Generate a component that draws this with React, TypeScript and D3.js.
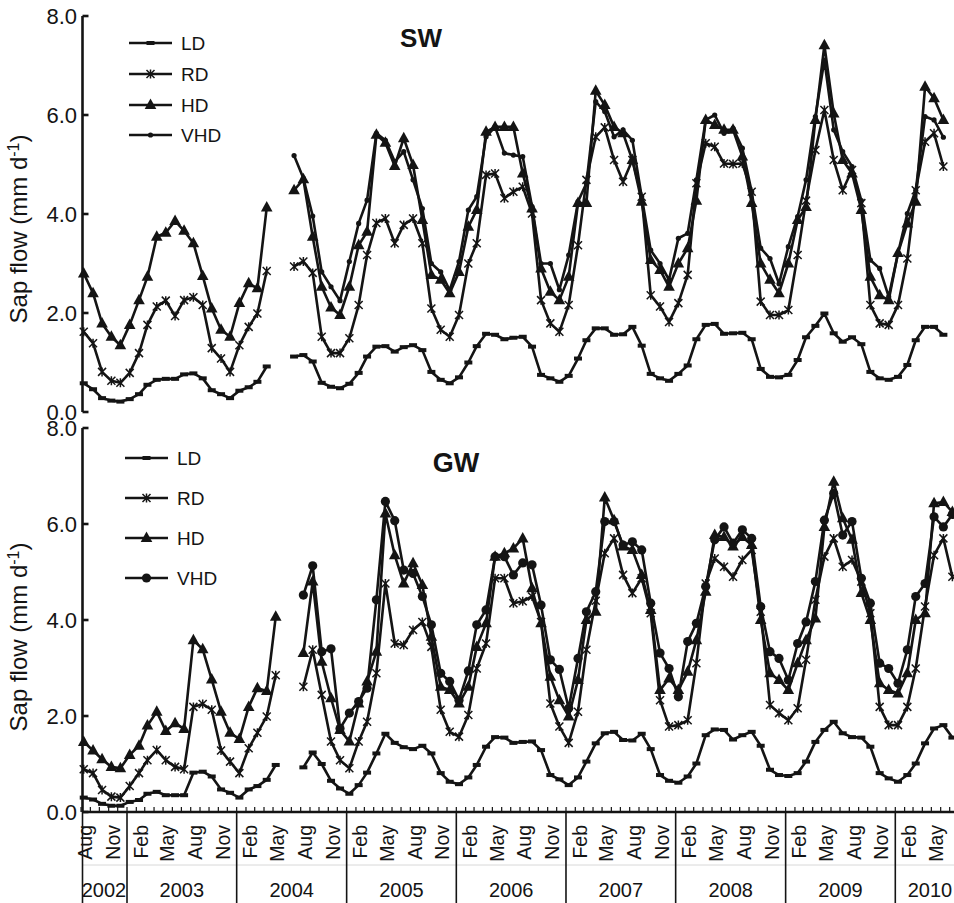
import React from 'react';
import * as d3 from 'd3';

const W = 954;
const H = 903;
const INK = '#141414';
const FONT = 'Liberation Sans, Arial, Helvetica, sans-serif';

// one point per month, Aug 2002 .. Jul 2010
const months = d3.timeMonth.range(new Date(2002, 7, 1), new Date(2010, 7, 2));

const seriesNames = ['LD', 'RD', 'HD', 'VHD'];
const yTicks = [0, 2, 4, 6, 8];
const monthTickNames = ['Feb', 'May', 'Aug', 'Nov'];
const years = [2002, 2003, 2004, 2005, 2006, 2007, 2008, 2009, 2010];

// ---- SW ----
const swLD = [
  0.58, 0.46, 0.28, 0.23, 0.21,
  0.26, 0.36, 0.55, 0.65, 0.67, 0.67, 0.76, 0.78, 0.68, 0.44, 0.36, 0.28,
  0.43, 0.5, 0.61, 0.92, null, null, 1.12, 1.15, 1.02, 0.59, 0.51, 0.48,
  0.57, 0.79, 1.12, 1.32, 1.33, 1.22, 1.31, 1.35, 1.25, 0.81, 0.65, 0.58,
  0.7, 1.0, 1.33, 1.58, 1.56, 1.47, 1.5, 1.52, 1.32, 0.75, 0.68, 0.61,
  0.73, 1.08, 1.45, 1.69, 1.69, 1.56, 1.57, 1.72, 1.34, 0.77, 0.68, 0.63,
  0.77, 0.94, 1.47, 1.76, 1.78, 1.58, 1.59, 1.6, 1.47, 0.87, 0.71, 0.7,
  0.75, 1.05, 1.51, 1.74, 1.99, 1.59, 1.42, 1.51, 1.37, 0.81, 0.68, 0.65,
  0.71, 0.95, 1.45, 1.72, 1.72, 1.56, null,
];
const swRD = [
  1.62, 1.39, 0.81, 0.63, 0.59,
  0.79, 1.19, 1.76, 2.13, 2.25, 1.94, 2.26, 2.32, 2.16, 1.29, 1.08, 0.81,
  1.35, 1.72, 1.99, 2.85, null, null, 2.94, 3.04, 2.81, 1.52, 1.19, 1.19,
  1.49, 2.16, 3.17, 3.82, 3.91, 3.41, 3.78, 3.91, 3.41, 2.09, 1.66, 1.52,
  1.96, 3.0, 3.41, 4.79, 4.82, 4.32, 4.45, 4.55, 4.01, 2.26, 1.79, 1.62,
  2.16, 3.37, 4.69, 5.56, 5.75, 5.09, 4.65, 5.09, 4.35, 2.36, 2.13, 1.82,
  2.2, 2.77, 4.62, 5.43, 5.36, 5.02, 5.01, 5.02, 4.45, 2.23, 1.96, 1.96,
  2.06, 3.17, 4.27, 5.29, 6.1, 5.09, 4.48, 4.89, 4.22, 2.16, 1.79, 1.76,
  2.16, 3.1, 4.48, 5.46, 5.63, 4.96, null,
];
const swHD = [
  2.8, 2.4, 1.79, 1.52, 1.35,
  1.76, 2.26, 2.73, 3.54, 3.62, 3.86, 3.66, 3.41, 2.75, 2.09, 1.66, 1.52,
  2.2, 2.6, 2.5, 4.13, null, null, 4.48, 4.7, 3.54, 2.53, 2.11, 1.96,
  2.53, 3.37, 3.64, 5.6, 5.44, 4.97, 5.53, 4.99, 3.88, 2.77, 2.67, 2.4,
  2.83, 3.74, 4.08, 5.66, 5.76, 5.76, 5.76, 4.82, 4.11, 2.9, 2.43, 2.26,
  2.73, 4.22, 4.22, 6.49, 6.2, 5.76, 5.63, 5.09, 4.25, 3.07, 2.87, 2.53,
  3.0, 3.31, 4.27, 5.9, 5.8, 5.7, 5.7, 5.16, 4.22, 3.0, 2.67, 2.4,
  3.0, 3.88, 4.14, 5.9, 7.41, 6.03, 5.09, 4.82, 4.08, 2.73, 2.36, 2.26,
  3.21, 3.81, 4.25, 6.57, 6.34, 5.9, null,
];
const swVHD = [
  null, null, null, null, null,
  null, null, null, null, null, null, null, null, null, null, null, null,
  null, null, null, null, null, null, 5.18, 4.72, 3.96, 2.83, 2.53, 2.25,
  3.04, 3.81, 4.28, 5.63, 5.49, 5.06, 5.26, 4.69, 4.11, 3.0, 2.83, 2.46,
  3.04, 4.08, 4.35, 5.56, 5.76, 5.23, 5.19, 5.16, 4.15, 3.0, 3.0, 2.47,
  3.17, 4.25, 4.62, 6.27, 6.07, 5.56, 5.7, 5.49, 4.35, 3.27, 3.0, 2.67,
  3.51, 3.61, 4.69, 5.9, 6.0, 5.63, 5.73, 5.33, 4.45, 3.31, 3.1, 2.59,
  3.34, 3.95, 4.69, 5.97, 7.11, 5.7, 5.26, 4.96, 4.27, 3.07, 2.9, 2.33,
  3.21, 4.01, 4.48, 5.97, 5.9, 5.55, null,
];

// ---- GW ----
const gwLD = [
  0.3, 0.26, 0.17, 0.13, 0.13,
  0.21, 0.25, 0.38, 0.42, 0.35, 0.35, 0.35, 0.82, 0.84, 0.74, 0.47, 0.4,
  0.3, 0.47, 0.54, 0.67, 0.98, null, null, 0.93, 1.24, 1.0, 0.65, 0.49,
  0.38, 0.56, 0.82, 1.22, 1.63, 1.44, 1.35, 1.31, 1.38, 1.22, 0.81, 0.63,
  0.58, 0.72, 0.98, 1.36, 1.56, 1.55, 1.44, 1.46, 1.47, 1.29, 0.77, 0.68,
  0.56, 0.72, 1.05, 1.43, 1.64, 1.67, 1.5, 1.49, 1.63, 1.31, 0.77, 0.65,
  0.61, 0.74, 1.01, 1.6, 1.72, 1.71, 1.51, 1.6, 1.67, 1.38, 0.88, 0.77,
  0.75, 0.81, 1.05, 1.46, 1.71, 1.88, 1.64, 1.56, 1.55, 1.36, 0.81, 0.7,
  0.63, 0.77, 1.01, 1.43, 1.74, 1.81, 1.55,
];
const gwRD = [
  0.89, 0.81, 0.46, 0.32, 0.3,
  0.54, 0.81, 1.08, 1.29, 1.08, 0.94, 0.89, 2.19, 2.25, 2.13, 1.28, 1.05,
  0.81, 1.33, 1.65, 1.99, 2.85, null, null, 2.61, 3.38, 2.44, 1.47, 1.08,
  0.91, 1.47, 1.88, 2.89, 4.76, 3.51, 3.48, 3.79, 3.96, 3.44, 2.13, 1.67,
  1.57, 2.02, 2.99, 3.51, 4.87, 4.87, 4.35, 4.39, 4.49, 3.96, 2.26, 1.78,
  1.44, 2.09, 3.38, 4.4, 5.39, 5.7, 4.94, 4.56, 4.87, 4.14, 2.33, 1.78,
  1.81, 1.91, 3.1, 4.76, 5.28, 5.11, 4.9, 5.25, 5.46, 4.17, 2.23, 2.06,
  1.91, 2.16, 3.17, 4.42, 5.32, 5.7, 5.11, 5.25, 4.8, 4.14, 2.19, 1.81,
  1.81, 2.19, 2.99, 4.28, 5.35, 5.7, 4.9,
];
const gwHD = [
  1.46, 1.28, 1.1, 0.94, 0.91,
  1.19, 1.38, 1.8, 2.09, 1.69, 1.85, 1.73, 3.58, 3.39, 2.76, 2.09, 1.65,
  1.52, 2.19, 2.58, 2.52, 4.07, null, null, 3.31, 4.8, 3.13, 2.37, 1.71,
  1.47, 2.26, 2.72, 3.34, 6.22, 5.35, 4.76, 5.18, 4.73, 3.65, 2.61, 2.54,
  2.26, 2.61, 3.44, 3.93, 5.32, 5.39, 5.49, 5.7, 4.66, 3.93, 2.82, 2.33,
  1.99, 2.75, 4.0, 4.17, 6.55, 6.08, 5.53, 5.46, 4.94, 4.21, 2.54, 2.78,
  2.54, 2.92, 3.58, 4.59, 5.77, 5.73, 5.53, 5.73, 5.56, 4.0, 2.89, 2.75,
  2.54, 3.1, 3.58, 4.03, 5.94, 6.88, 6.12, 5.67, 4.56, 4.0, 2.68, 2.54,
  2.47, 2.89, 4.0, 4.14, 6.43, 6.46, 6.25,
];
const gwVHD = [
  null, null, null, null, null,
  null, null, null, null, null, null, null, null, null, null, null, null,
  null, null, null, null, null, null, null, 4.52, 5.13, 3.34, 3.4, 1.74,
  2.06, 2.3, 2.58, 4.42, 6.47, 6.07, 5.04, 4.97, 4.49, 3.9, 2.89, 2.72,
  2.33, 2.94, 3.9, 4.21, 5.32, 5.32, 4.94, 5.19, 5.15, 4.31, 3.17, 2.97,
  2.16, 3.2, 4.17, 4.59, 6.05, 6.05, 5.56, 5.63, 5.46, 4.35, 3.31, 2.99,
  2.4, 3.55, 3.93, 4.7, 5.67, 5.94, 5.6, 5.88, 5.7, 4.28, 3.34, 3.2,
  2.75, 3.51, 3.96, 4.8, 6.08, 6.64, 5.77, 6.05, 4.87, 4.35, 3.1, 2.99,
  2.68, 3.38, 4.49, 4.76, 6.15, 5.94, 6.2,
];

const swData = { LD: swLD, RD: swRD, HD: swHD, VHD: swVHD };
const gwData = { LD: gwLD, RD: gwRD, HD: gwHD, VHD: gwVHD };

const x = d3
  .scaleTime()
  .domain([new Date(2003, 0, 1), new Date(2010, 0, 1)])
  .range([127, 895.3]);
const AXIS_X = 82.5;
const AXIS_START = new Date(2002, 7, 1);
const AXIS_END = new Date(2010, 7, 20); // figure is cut off at the right
const pointDate = (d: Date) => new Date(d.getFullYear(), d.getMonth(), 10);

const ySW = d3.scaleLinear().domain([0, 8]).range([412, 16]);
const yGW = d3.scaleLinear().domain([0, 8]).range([812, 428]);

function Marker({ kind, cx, cy, r }: { kind: string; cx: number; cy: number; r: number }) {
  if (kind === 'LD') return <rect x={cx - 4} y={cy - 2} width={8} height={4} fill={INK} />;
  if (kind === 'RD')
    return (
      <path
        d={`M${cx - 4},${cy - 4}L${cx + 4},${cy + 4}M${cx - 4},${cy + 4}L${cx + 4},${cy - 4}M${cx},${cy - 4.5}L${cx},${cy + 4.5}`}
        stroke={INK}
        strokeWidth={1.5}
        fill="none"
      />
    );
  if (kind === 'HD')
    return <path d={`M${cx},${cy - 6.5}L${cx + 5.8},${cy + 4}L${cx - 5.8},${cy + 4}Z`} fill={INK} />;
  return <circle cx={cx} cy={cy} r={r} fill={INK} />;
}

type PanelProps = {
  data: Record<string, (number | null)[]>;
  y: d3.ScaleLinear<number, number>;
  title: string;
  titleX: number;
  titleY: number;
  titleSize: number;
  legX: [number, number];
  legYs: number[];
  dotR: number;
  labelY: number;
};

function Panel({ data, y, title, titleX, titleY, titleSize, legX, legYs, dotR, labelY }: PanelProps) {
  const line = d3
    .line<number | null>()
    .defined((v) => v != null)
    .x((_, i) => x(pointDate(months[i])))
    .y((v) => y(v as number));
  const [y0, y1] = y.range();
  return (
    <g>
      {/* y axis */}
      <line x1={AXIS_X} x2={AXIS_X} y1={y1} y2={y0} stroke={INK} strokeWidth={2.6} />
      {yTicks.map((t) => (
        <g key={t}>
          <line x1={AXIS_X} x2={AXIS_X + 6} y1={y(t)} y2={y(t)} stroke={INK} strokeWidth={2.6} />
          <text x={77} y={y(t)} dy="0.36em" textAnchor="end" fontSize={22} fill={INK}>
            {d3.format('.1f')(t)}
          </text>
        </g>
      ))}
      <text
        transform={`translate(27,${labelY}) rotate(-90)`}
        textAnchor="middle"
        fontSize={24}
        fill={INK}
      >
        Sap flow (mm d
        <tspan baselineShift="super" fontSize={16}>
          -1
        </tspan>
        )
      </text>

      {/* series */}
      {seriesNames.map((k) => (
        <g key={k}>
          <path d={line(data[k]) || ''} fill="none" stroke={INK} strokeWidth={2.6} strokeLinejoin="round" />
          {data[k].map((v, i) =>
            v == null ? null : (
              <Marker key={i} kind={k} cx={x(pointDate(months[i]))} cy={y(v)} r={dotR} />
            )
          )}
        </g>
      ))}

      {/* legend */}
      {seriesNames.map((k, i) => (
        <g key={k}>
          <line x1={legX[0]} x2={legX[1]} y1={legYs[i]} y2={legYs[i]} stroke={INK} strokeWidth={2.6} />
          <Marker kind={k} cx={(legX[0] + legX[1]) / 2} cy={legYs[i]} r={dotR} />
          <text x={legX[1] + 9} y={legYs[i]} dy="0.36em" fontSize={19} fill={INK}>
            {k}
          </text>
        </g>
      ))}

      <text x={titleX} y={titleY} textAnchor="middle" fontSize={titleSize} fontWeight="bold" fill={INK}>
        {title}
      </text>
    </g>
  );
}

export default function App() {
  const axisY = yGW(0);
  const tickMonths = d3.timeMonth.range(AXIS_START, new Date(2011, 0, 2));
  const labelMonths = d3
    .timeMonth.range(AXIS_START, AXIS_END)
    .filter((d) => monthTickNames.includes(d3.timeFormat('%b')(d)))
    .filter((d) => x(new Date(d.getFullYear(), d.getMonth(), 15)) < W - 8);
  const yearEdges = years.map((yr) => [
    yr === 2002 ? AXIS_START : new Date(yr, 0, 1),
    yr === 2010 ? AXIS_END : new Date(yr + 1, 0, 1),
  ]);

  return (
    <div style={{ position: 'absolute', left: 0, top: 0, width: W, height: H, background: '#fff' }}>
      <svg width={W} height={H} style={{ display: 'block', fontFamily: FONT }}>
        <rect width={W} height={H} fill="#fff" />
        <Panel
          data={swData}
          y={ySW}
          title="SW"
          titleX={421}
          titleY={47}
          titleSize={26}
          legX={[129, 172]}
          legYs={[43, 74, 105, 135]}
          dotR={2.6}
          labelY={229}
        />
        <Panel
          data={gwData}
          y={yGW}
          title="GW"
          titleX={456}
          titleY={472}
          titleSize={27}
          legX={[125, 168]}
          legYs={[458, 498, 538, 578]}
          dotR={4.6}
          labelY={637}
        />

        {/* time axis */}
        <line x1={AXIS_X} x2={W} y1={axisY} y2={axisY} stroke={INK} strokeWidth={2.4} />
        {tickMonths.map((d, i) => (
          <line key={i} x1={x(d)} x2={x(d)} y1={axisY} y2={axisY - 5} stroke={INK} strokeWidth={1.2} />
        ))}
        <line x1={AXIS_X} x2={W} y1={865} y2={865} stroke="#d8d8d8" strokeWidth={1} />
        <line x1={AXIS_X} x2={AXIS_X} y1={axisY} y2={H} stroke={INK} strokeWidth={1.6} />
        {yearEdges.slice(0, -1).map(([, e], i) => (
          <line key={i} x1={x(e)} x2={x(e)} y1={axisY} y2={H} stroke={INK} strokeWidth={1.6} />
        ))}
        {labelMonths.map((d, i) => {
          const cx = x(new Date(d.getFullYear(), d.getMonth(), 15));
          return (
            <text
              key={i}
              transform={`translate(${cx},825) rotate(-90)`}
              textAnchor="end"
              dy="0.36em"
              fontSize={19.5}
              fill={INK}
            >
              {d3.timeFormat('%b')(d)}
            </text>
          );
        })}
        {yearEdges.map(([s, e], i) => (
          <text key={i} x={(x(s) + x(e)) / 2} y={897} textAnchor="middle" fontSize={20} fill={INK}>
            {years[i]}
          </text>
        ))}
      </svg>
    </div>
  );
}
